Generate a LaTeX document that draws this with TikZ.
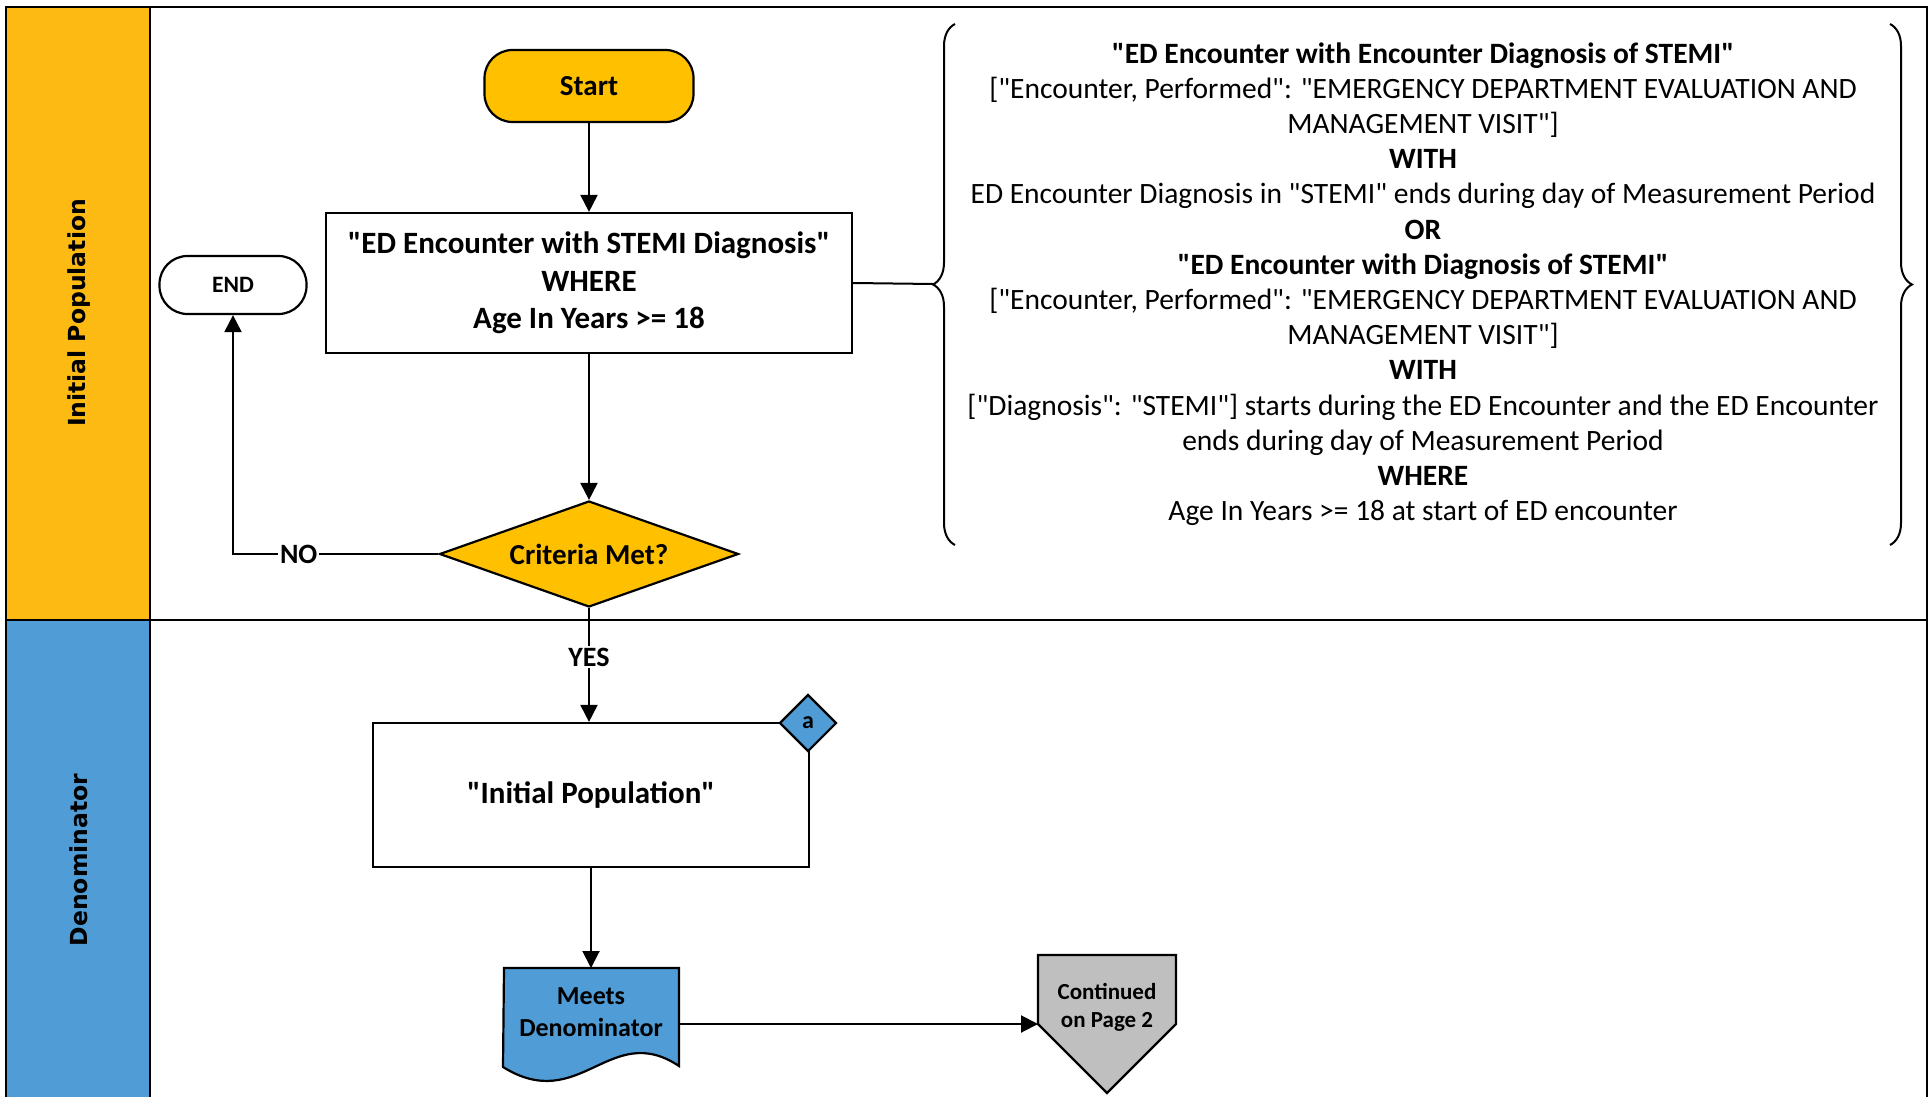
\documentclass[tikz,border=0pt]{standalone}
\usepackage{fontspec}
\setmainfont{Carlito}[Ligatures=TeXOff]
\newfontfamily\lanefont{DejaVu Sans}
\usetikzlibrary{arrows.meta,shapes.geometric,decorations.pathreplacing}
\definecolor{lanegold}{RGB}{253,186,19}
\definecolor{amber}{RGB}{255,192,0}
\definecolor{lanesky}{RGB}{79,156,214}
\definecolor{silver}{RGB}{191,191,191}

\begin{document}
\begin{tikzpicture}[x=1pt, y=-1pt,
    every node/.style = {line width=2.2pt},
    term/.style      = {draw, rounded corners=28pt, inner sep=0pt},
    procbox/.style   = {draw, fill=white, align=center, inner sep=0pt},
    decision/.style  = {draw, diamond, fill=amber, inner sep=0pt, shape aspect=2.8},
    lanelbl/.style   = {rotate=90, font=\lanefont\bfseries\fontsize{23.5}{28}\selectfont},
    lbl/.style       = {fill=white, inner sep=2pt, font=\bfseries\fontsize{28}{32}\selectfont},
    flow/.style      = {line width=2pt, -{Triangle[length=17pt,width=17pt]}},
    curly/.style     = {line width=2pt, decorate, decoration={brace, amplitude=22pt}}]
            \useasboundingbox                                            (0,0) rectangle (1931,1097);
            \fill[lanegold]                                               (6,7)    rectangle (150,620);
            \fill[lanesky]                                                (6,620)  rectangle (150,1097);
            \draw[line width=2pt]                                         (6,1097) -- (6,7) -- (1927,7) -- (1927,1097);
            \draw[line width=2pt]                                         (150,7)  -- (150,1097);
            \draw[line width=2pt]                                         (6,620)  -- (1927,620);
            \node (ipLane)  [lanelbl]                                     at (79,313)  {Initial Population};
            \node (denLane) [lanelbl]                                     at (79,860)  {Denominator};

            \node (start)   [term, fill=amber, minimum width=209pt, minimum height=72pt,
                             font=\bfseries\fontsize{29}{35}\selectfont]  at (589,86)  {Start};
            \node (edenc)   [procbox, minimum width=526pt, minimum height=140pt,
                             font=\bfseries\fontsize{31}{37.5}\selectfont] at (589,283)
                 {"ED Encounter with STEMI Diagnosis"\\WHERE\\Age In Years >= 18};
            \node (endnode) [term, fill=white, minimum width=147pt, minimum height=58pt,
                             font=\bfseries\fontsize{23.5}{28}\selectfont] at (233,285) {END};
            \node (crit)    [decision, minimum width=299pt, minimum height=106pt,
                             font=\bfseries\fontsize{29}{35}\selectfont]  at (589,554) {Criteria Met?};

            \draw[curly]                                                  (955,545) -- (955,24);
            \draw[curly]                                                  (1890,24) -- (1890,545);
            \coordinate (braceTip)                                        at (933,284);
            \node (logic)   [align=center, font=\fontsize{29.5}{35.2}\selectfont] at (1423,284)
                 {\textbf{"ED Encounter with Encounter Diagnosis of STEMI"}\\
                  {}["Encounter, Performed": "EMERGENCY DEPARTMENT EVALUATION AND\\
                  MANAGEMENT VISIT"]\\
                  \textbf{WITH}\\
                  ED Encounter Diagnosis in "STEMI" ends during day of Measurement Period\\
                  \textbf{OR}\\
                  \textbf{"ED Encounter with Diagnosis of STEMI"}\\
                  {}["Encounter, Performed": "EMERGENCY DEPARTMENT EVALUATION AND\\
                  MANAGEMENT VISIT"]\\
                  \textbf{WITH}\\
                  {}["Diagnosis": "STEMI"] starts during the ED Encounter and the ED Encounter\\
                  ends during day of Measurement Period\\
                  \textbf{WHERE}\\
                  Age In Years >= 18 at start of ED encounter};

            \node (ipop)    [procbox, minimum width=436pt, minimum height=144pt,
                             font=\bfseries\fontsize{31}{37.5}\selectfont] at (591,795) {"Initial Population"};
            \node (conn)    [draw, diamond, fill=lanesky, minimum width=57pt, minimum height=57pt, inner sep=0pt,
                             font=\bfseries\fontsize{24}{28}\selectfont]  at (808,723) {a};

            \filldraw[fill=lanesky, line width=2.2pt]                     (504,968) -- (679,968) -- (679,1066)
                 .. controls (610,1020) and (580,1115) .. (503,1067) -- cycle;
            \node (meets)   [anchor=north, align=center, minimum width=175pt, minimum height=86pt,
                             font=\bfseries\fontsize{26}{32}\selectfont]  at (591,968) {Meets\\Denominator};

            \filldraw[fill=silver, line width=2.2pt]                      (1038,955) -- (1176,955) -- (1176,1024)
                 -- (1107,1093) -- (1038,1024) -- cycle;
            \node (cont)    [align=center, font=\bfseries\fontsize{23}{28}\selectfont] at (1107,1007)
                 {Continued\\on Page 2};
            \coordinate (contIn)                                          at (1038,1024);

            \draw[flow]  (start) -- (edenc);
            \draw[flow]  (edenc) -- (crit);
            \draw[line width=2pt] (edenc.east) -- (braceTip);
            \draw[flow]  (crit.west) -| node[lbl, pos=0.34] {NO} (endnode.south);
            \draw[flow]  (crit.south) -- node[lbl, pos=0.43] {YES} (crit.south |- ipop.north);
            \draw[flow]  (ipop) -- (meets);
            \draw[flow]  (meets.east |- contIn) -- (contIn);
\end{tikzpicture}
\end{document}
